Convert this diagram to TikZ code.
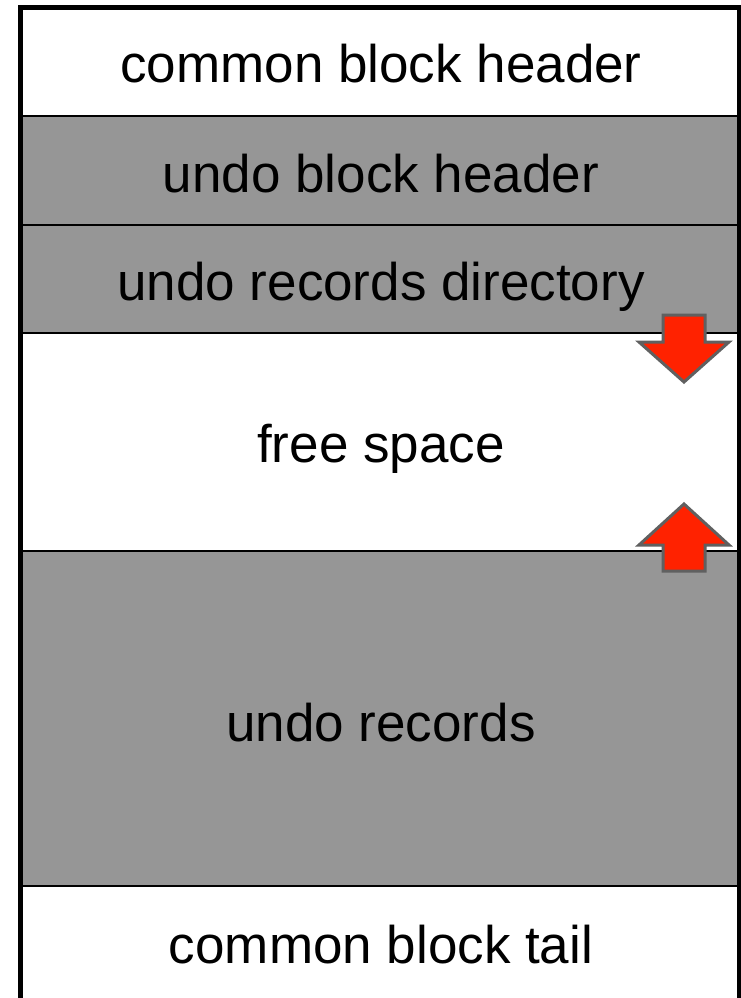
\documentclass[tikz,border=0pt]{standalone}
\usepackage{fontspec}
\setmainfont{Liberation Sans}
\begin{document}
\begin{tikzpicture}[x=1pt,y=-1pt,
  band/.style={fill=gray59,draw=none},
  divider/.style={line width=2.5pt,black},
  label/.style={font=\fontsize{53}{60}\selectfont,anchor=base,inner sep=0pt},
  growarrow/.style={fill=arrowred,draw=arrowgray,line width=3pt,line join=miter}]
\definecolor{gray59}{RGB}{150,150,150}
\definecolor{arrowred}{RGB}{255,34,0}
\definecolor{arrowgray}{RGB}{96,96,96}
\useasboundingbox (0,0) rectangle (740,998);
\fill[white] (0,0) rectangle (740,998);
% shaded regions
\path[band] (20,116) rectangle (740,333);
\path[band] (20,551) rectangle (740,886);
% region boundaries
\foreach \yy in {116,225,333,551,886}
  \draw[divider] (20,\yy) -- (740,\yy);
% outer frame (open at the bottom)
\draw[line width=5pt,line join=miter] (20.5,1010) -- (20.5,7.5) -- (739.5,7.5) -- (739.5,1010);
% labels, placed on their baselines
\node[label] (hdr)  at (381,82)  {common block header};
\node[label] (ubh)  at (381,192) {undo block header};
\node[label] (dir)  at (381,300) {undo records directory};
\node[label] (free) at (381,462) {free space};
\node[label] (recs) at (381,741) {undo records};
\node[label] (tail) at (381,963) {common block tail};
% growth arrows
\draw[growarrow] (663,315) -- (705,315) -- (705,342) -- (729,342) -- (684,382) -- (639,342) -- (663,342) -- cycle;
\draw[growarrow] (684,504) -- (729,545) -- (705,545) -- (705,571) -- (663,571) -- (663,545) -- (639,545) -- cycle;
\end{tikzpicture}
\end{document}
